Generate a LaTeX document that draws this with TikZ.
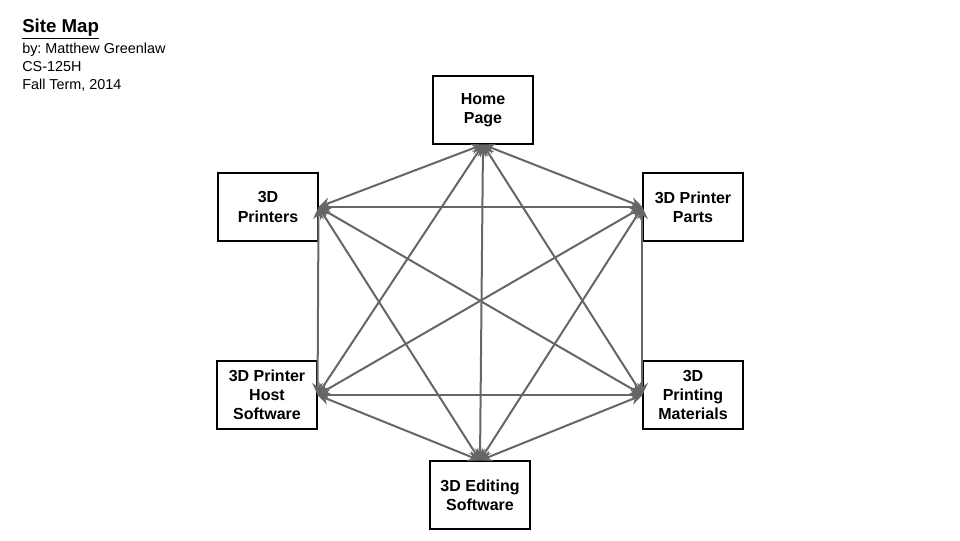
\documentclass[tikz,border=0pt]{standalone}
\usepackage{fontspec}
\setmainfont{Liberation Sans}
\usetikzlibrary{arrows.meta}
\frenchspacing
\begin{document}
\begin{tikzpicture}[x=0.75pt,y=-0.75pt]
\tikzstyle{pagebox}=[draw,rectangle,line width=0.8pt,minimum width=75pt,minimum height=51pt,inner sep=2pt,align=center,font=\fontsize{12}{14.3}\selectfont\bfseries]
\tikzstyle{link}=[{Stealth[length=9pt,width=8pt]}-{Stealth[length=9pt,width=8pt]},line width=1.5pt,draw=black!60,fill=black!60]
\useasboundingbox (0,0) rectangle (960,540);
\node[anchor=west,inner sep=0pt,font=\fontsize{14}{16}\selectfont\bfseries] (sitetitle) at (22,29) {\underline{Site Map}};
\node[anchor=north west,align=left,inner sep=0pt,font=\fontsize{10.8}{13.5}\selectfont] (byline) at (22,43) {by: Matthew Greenlaw\\CS-125H\\Fall Term, 2014};
\node[pagebox] (home) at (483,110) {Home\\Page};
\node[pagebox] (printers) at (268,207) {3D\\Printers};
\node[pagebox] (parts) at (693,207) {3D Printer\\Parts};
\node[pagebox] (host) at (267,395) {3D Printer\\Host\\Software};
\node[pagebox] (materials) at (693,395) {3D\\Printing\\Materials};
\node[pagebox] (editing) at (480,495) {3D Editing\\Software};
% every page links to every other page
\draw[link] (home.south) -- (printers.east);
\draw[link] (home.south) -- (parts.west);
\draw[link] (home.south) -- (host.east);
\draw[link] (home.south) -- (materials.west);
\draw[link] (home.south) -- (editing.north);
\draw[link] (printers.east) -- (parts.west);
\draw[link] (printers.east) -- (host.east);
\draw[link] (printers.east) -- (materials.west);
\draw[link] (printers.east) -- (editing.north);
\draw[link] (parts.west) -- (host.east);
\draw[link] (parts.west) -- (materials.west);
\draw[link] (parts.west) -- (editing.north);
\draw[link] (host.east) -- (materials.west);
\draw[link] (host.east) -- (editing.north);
\draw[link] (materials.west) -- (editing.north);
\end{tikzpicture}
\end{document}
